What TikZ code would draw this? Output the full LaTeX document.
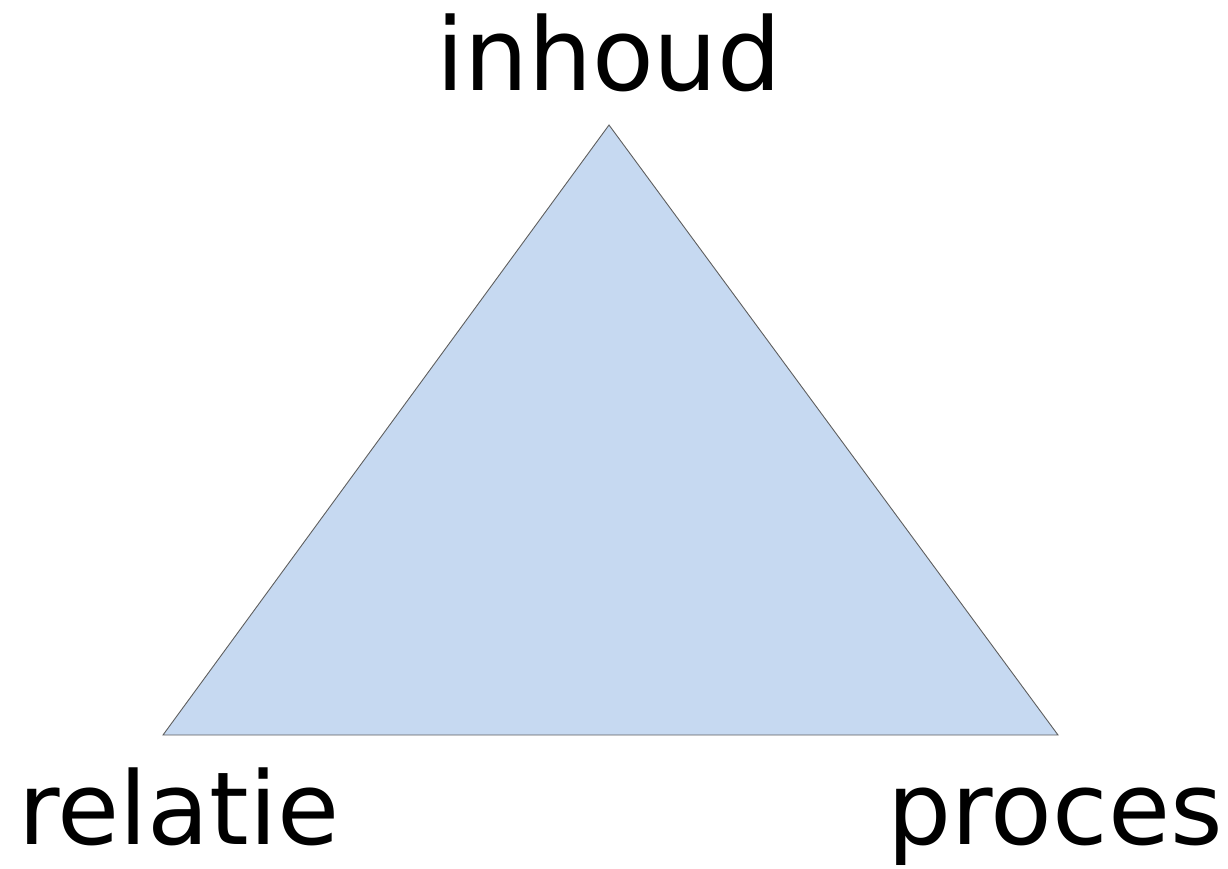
\documentclass[tikz,border=0pt]{standalone}
\usepackage{fontspec}
\setmainfont{DejaVu Sans}
\definecolor{trifill}{HTML}{C6D9F1}
\definecolor{triline}{HTML}{5F5F5F}
\begin{document}
\begin{tikzpicture}[x=1pt,y=-1pt,
  lbl/.style={inner sep=0pt,font=\fontsize{101}{110}\selectfont,text=black},
  tri/.style={fill=trifill,draw=triline,line width=0.9pt,line join=miter}]
\useasboundingbox (0,0) rectangle (1228,868);
\coordinate (top) at (609,125);
\coordinate (bl) at (163,735);
\coordinate (br) at (1058,735);
\draw[tri] (top) -- (bl) -- (br) -- cycle;
\node[lbl,anchor=base] (inhoud) at (609,90) {inhoud};
\node[lbl,anchor=base west] (relatie) at (18,844) {relatie};
\node[lbl,anchor=base east] (proces) at (1223,844) {proces};
\end{tikzpicture}
\end{document}
